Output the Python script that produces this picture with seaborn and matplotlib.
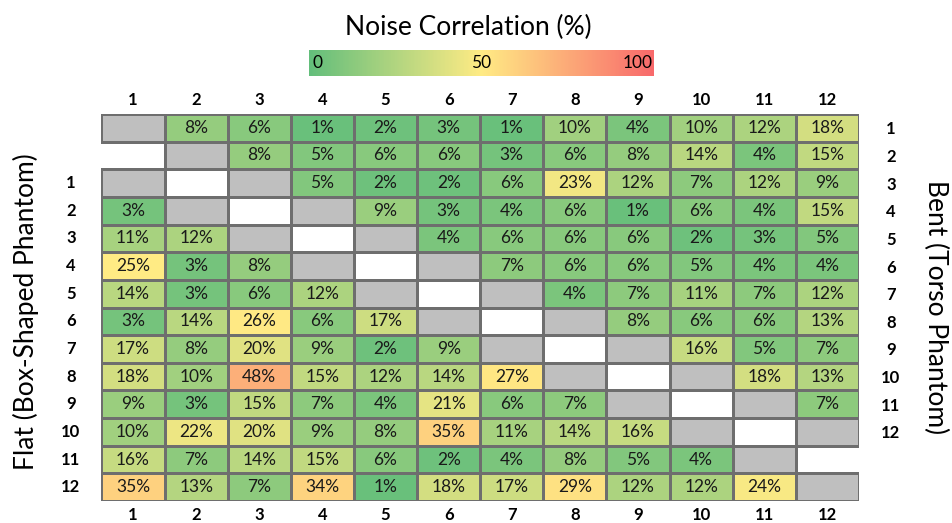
import numpy as np
import pandas as pd
import matplotlib
matplotlib.use("Agg")
import matplotlib.pyplot as plt
import seaborn as sns
from matplotlib.colors import LinearSegmentedColormap, Normalize, ListedColormap
from matplotlib.cm import ScalarMappable

# channel labels
channels = [str(i) for i in range(1, 13)]

# lower triangle: flat (box-shaped phantom), row j -> columns 1..j-1
flat = [
    [],
    [3],
    [11, 12],
    [25, 3, 8],
    [14, 3, 6, 12],
    [3, 14, 26, 6, 17],
    [17, 8, 20, 9, 2, 9],
    [18, 10, 48, 15, 12, 14, 27],
    [9, 3, 15, 7, 4, 21, 6, 7],
    [10, 22, 20, 9, 8, 35, 11, 14, 16],
    [16, 7, 14, 15, 6, 2, 4, 8, 5, 4],
    [35, 13, 7, 34, 1, 18, 17, 29, 12, 12, 24],
]

# upper triangle: bent (torso phantom), row i -> columns i+1..12
bent = [
    [8, 6, 1, 2, 3, 1, 10, 4, 10, 12, 18],
    [8, 5, 6, 6, 3, 6, 8, 14, 4, 15],
    [5, 2, 2, 6, 23, 12, 7, 12, 9],
    [9, 3, 4, 6, 1, 6, 4, 15],
    [4, 6, 6, 6, 2, 3, 5],
    [7, 6, 6, 5, 4, 4],
    [4, 7, 11, 7, 12],
    [8, 6, 6, 13],
    [16, 5, 7],
    [18, 13],
    [7],
    [],
]

n = len(channels)
nrows = n + 2
vals = np.full((nrows, n), np.nan)
diag = np.zeros((nrows, n), dtype=bool)
for i, row in enumerate(bent):
    diag[i, i] = True
    for k, v in enumerate(row):
        vals[i, i + 1 + k] = v
for j, row in enumerate(flat):
    diag[j + 2, j] = True
    for k, v in enumerate(row):
        vals[j + 2, k] = v

df = pd.DataFrame(vals, columns=channels)
annot = df.map(lambda v: "" if np.isnan(v) else f"{int(v)}%")

plt.rcParams["font.family"] = ["Lato", "DejaVu Sans"]

green, yellow, red = "#63BE7B", "#FFEB84", "#F8696B"
cell_cmap = LinearSegmentedColormap.from_list("cells", [(0, green), (1 / 3, yellow), (1, red)])
bar_cmap = LinearSegmentedColormap.from_list("bar", [green, yellow, red])
edge = "#6e6e6e"


def hide_masked_edges(mesh, mask):
    # masked (white) cells get no border
    cols = [(0, 0, 0, 0) if m else matplotlib.colors.to_rgba(edge) for m in mask.ravel()]
    mesh.set_edgecolors(cols)


fig = plt.figure(figsize=(9.52, 5.23), dpi=100)
ax = fig.add_axes([0.1066, 0.042, 0.7957, 0.740])

# grey diagonal cells
sns.heatmap(pd.DataFrame(np.ones((nrows, n))), mask=~diag, cmap=ListedColormap(["#BFBFBF"]),
            cbar=False, linewidths=0.8, linecolor=edge, ax=ax)
hide_masked_edges(ax.collections[-1], ~diag)
# values
sns.heatmap(df, mask=df.isna(), cmap=cell_cmap, vmin=0, vmax=75, annot=annot, fmt="",
            annot_kws={"fontsize": 12.5, "color": "#1a1a1a"}, cbar=False,
            linewidths=0.8, linecolor=edge, ax=ax)
hide_masked_edges(ax.collections[-1], df.isna().values)

ax.set_xticks(np.arange(n) + 0.5)
ax.set_xticklabels(channels, fontsize=12, fontweight="bold")
ax.tick_params(axis="x", labeltop=True, labelbottom=True, length=0, pad=4, rotation=0)
ax.set_yticks(np.arange(2, nrows) + 0.5)
ax.set_yticklabels(channels, fontsize=12, fontweight="bold", rotation=0, ha="center")
ax.tick_params(axis="y", length=0, pad=22)
ax.set_xlabel("")
ax.set_ylabel("Flat (Box-Shaped Phantom)", fontsize=19)
ax.yaxis.set_label_coords(-0.083, 0.49)

ax2 = ax.twinx()
ax2.set_ylim(ax.get_ylim())
ax2.set_yticks(np.arange(n) + 0.5)
ax2.set_yticklabels(channels, fontsize=12, fontweight="bold", ha="center")
ax2.tick_params(axis="y", length=0, pad=23)
for s in ax2.spines.values():
    s.set_visible(False)
ax2.set_ylabel("Bent (Torso Phantom)", fontsize=19, rotation=270, va="bottom")
ax2.yaxis.set_label_coords(1.084, 0.5)

# colour bar
fig.text(0.4916, 0.948, "Noise Correlation (%)", fontsize=19, ha="center", va="center")
cax = fig.add_axes([0.3246, 0.8547, 0.3624, 0.0497])
cb = fig.colorbar(ScalarMappable(norm=Normalize(0, 100), cmap=bar_cmap), cax=cax, orientation="horizontal")
cb.outline.set_visible(False)
cb.set_ticks([])
cax.text(1, 0.5, "0", ha="left", va="center", fontsize=12.5)
cax.text(50, 0.5, "50", ha="center", va="center", fontsize=12.5)
cax.text(99.5, 0.5, "100", ha="right", va="center", fontsize=12.5)

fig.savefig("out.png", dpi=100)
